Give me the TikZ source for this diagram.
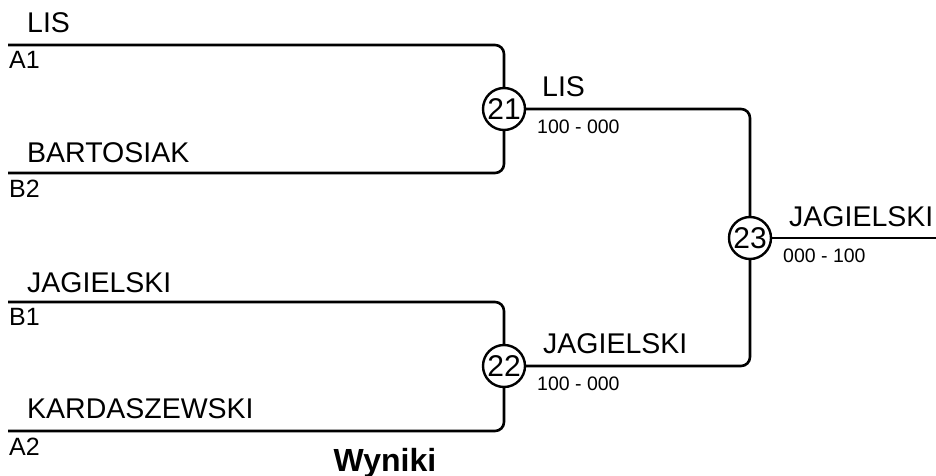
\documentclass[tikz,border=0pt]{standalone}
\usepackage{fontspec}
\setmainfont{Liberation Sans}
\begin{document}
\begin{tikzpicture}[x=1pt,y=-1pt,
  line/.style={line width=2.6pt,rounded corners=9pt},
  matchc/.style={circle,draw,line width=2.4pt,minimum size=42pt,inner sep=0pt,font=\fontsize{30}{32}\selectfont},
  pname/.style={anchor=base west,inner sep=0pt,font=\fontsize{28.5}{31}\selectfont},
  seed/.style={anchor=base west,inner sep=0pt,font=\fontsize{25}{27}\selectfont},
  score/.style={anchor=base west,inner sep=0pt,font=\fontsize{19.5}{22}\selectfont}]
\useasboundingbox (0,0) rectangle (936,476);
% match circles
\node[matchc] (m21) at (504,109) {21};
\node[matchc] (m22) at (504,366) {22};
\node[matchc] (m23) at (750,238) {23};
% line starts
\coordinate (a1s) at (8,45);
\coordinate (b2s) at (8,173);
\coordinate (b1s) at (8,302);
\coordinate (a2s) at (8,431);
\coordinate (fin) at (936,238);
% connectors
\draw[line] (a1s) -| (m21.north);
\draw[line] (b2s) -| (m21.south);
\draw[line] (b1s) -| (m22.north);
\draw[line] (a2s) -| (m22.south);
\draw[line] (m21.east) -| (m23.north);
\draw[line] (m22.east) -| (m23.south);
\draw[line] (m23.east) -- (fin);
% names
\node[pname] (n1) at (27,33) {LIS};
\node[seed] (s1) at (9,69) {A1};
\node[pname] (n2) at (27,162) {BARTOSIAK};
\node[seed] (s2) at (9,197) {B2};
\node[pname] (n3) at (27,292) {JAGIELSKI};
\node[seed] (s3) at (9,325) {B1};
\node[pname] (n4) at (27,418) {KARDASZEWSKI};
\node[seed] (s4) at (9,455) {A2};
% winners
\node[pname] (w21) at (542,97) {LIS};
\node[score] (sc21) at (537,133) {100 - 000};
\node[pname] (w22) at (543,353) {JAGIELSKI};
\node[score] (sc22) at (537,390) {100 - 000};
\node[pname] (w23) at (789,226) {JAGIELSKI};
\node[score] (sc23) at (783,262) {000 - 100};
% title
\node[anchor=base,inner sep=0pt,font=\bfseries\fontsize{32}{34}\selectfont] (title) at (385,471) {Wyniki};
\end{tikzpicture}
\end{document}
